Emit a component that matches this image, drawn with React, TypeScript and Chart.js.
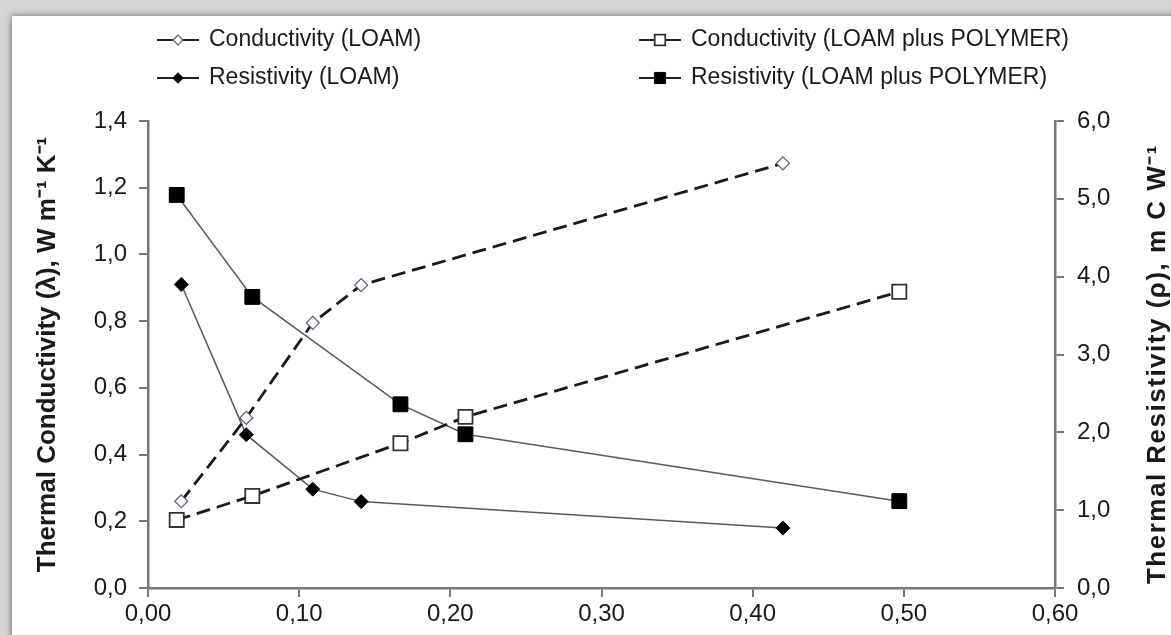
import React, { useEffect, useRef } from 'react';
import { Chart, registerables } from 'chart.js';

Chart.register(...registerables);

// ---- data ----
const loamMoisture = [0.022, 0.065, 0.109, 0.141, 0.42];
const loamConductivity = [0.26, 0.51, 0.795, 0.908, 1.273];
const loamResistivity = [3.9, 1.97, 1.27, 1.11, 0.77];

const polymerMoisture = [0.019, 0.069, 0.167, 0.21, 0.497];
const polymerConductivity = [0.204, 0.276, 0.434, 0.513, 0.888];
const polymerResistivity = [5.05, 3.74, 2.36, 1.975, 1.116];

const seriesNames = [
  'Conductivity (LOAM)',
  'Conductivity (LOAM plus POLYMER)',
  'Resistivity (LOAM)',
  'Resistivity (LOAM plus POLYMER)',
];

const xTickLabels = ['0,00', '0,10', '0,20', '0,30', '0,40', '0,50', '0,60'];
const leftTickLabels = ['0,0', '0,2', '0,4', '0,6', '0,8', '1,0', '1,2', '1,4'];
const rightTickLabels = ['0,0', '1,0', '2,0', '3,0', '4,0', '5,0', '6,0'];

const leftTitle = 'Thermal Conductivity (λ), W m⁻¹ K⁻¹';
const rightTitle = 'Thermal Resistivity (ρ), m C W⁻¹';

const FONT = '"Liberation Sans", Arial, sans-serif';

const toPoints = (xs: number[], ys: number[]) => xs.map((x, i) => ({ x, y: ys[i] }));

function drawMarker(ctx: CanvasRenderingContext2D, style: string, x: number, y: number, r: number, fill: string, stroke: string, lw: number) {
  ctx.beginPath();
  if (style === 'rectRot') {
    ctx.moveTo(x - r, y);
    ctx.lineTo(x, y - r);
    ctx.lineTo(x + r, y);
    ctx.lineTo(x, y + r);
    ctx.closePath();
  } else {
    const s = r * Math.SQRT1_2;
    ctx.rect(x - s, y - s, 2 * s, 2 * s);
  }
  ctx.fillStyle = fill;
  ctx.fill();
  ctx.lineWidth = lw;
  ctx.strokeStyle = stroke;
  ctx.stroke();
}

const decorPlugin = {
  id: 'decor',
  afterDraw(chart: any) {
    const ctx: CanvasRenderingContext2D = chart.ctx;
    ctx.save();
    // legend
    const items = [
      { ds: 0, x: 157, y: 40 },
      { ds: 1, x: 639, y: 40 },
      { ds: 2, x: 157, y: 78 },
      { ds: 3, x: 639, y: 78 },
    ];
    items.forEach((it) => {
      const d = chart.data.datasets[it.ds];
      ctx.beginPath();
      ctx.moveTo(it.x, it.y);
      ctx.lineTo(it.x + 42, it.y);
      ctx.lineWidth = 2;
      ctx.strokeStyle = '#222';
      ctx.setLineDash([]);
      ctx.stroke();
      drawMarker(ctx, d.pointStyle, it.x + 21, it.y, d.pointRadius * 0.75, d.pointBackgroundColor, d.pointBorderColor, d.pointBorderWidth);
      ctx.fillStyle = '#1a1a1a';
      ctx.font = `23px ${FONT}`;
      ctx.textAlign = 'left';
      ctx.textBaseline = 'middle';
      ctx.fillText(d.label, it.x + 52, it.y);
    });
    // right axis title (reads bottom to top)
    ctx.translate(1158, 364);
    ctx.rotate(-Math.PI / 2);
    ctx.font = `bold 26px ${FONT}`;
    (ctx as any).letterSpacing = '1.5px';
    ctx.fillStyle = '#1a1a1a';
    ctx.textAlign = 'center';
    ctx.textBaseline = 'middle';
    ctx.fillText(rightTitle, 0, 0);
    ctx.restore();
  },
};

export default function App() {
  const ref = useRef<HTMLCanvasElement | null>(null);

  useEffect(() => {
    if (!ref.current) return;
    const tickFont = { family: FONT, size: 24 };
    const axisGrid = { drawOnChartArea: false, drawTicks: true, tickLength: 9, color: '#777', lineWidth: 2 };
    const axisBorder = { display: true, color: '#777', width: 2.5 };
    const chart = new Chart(ref.current, {
      type: 'line',
      data: {
        datasets: [
          {
            label: seriesNames[0],
            data: toPoints(loamMoisture, loamConductivity),
            yAxisID: 'y',
            borderColor: '#1a1a1a',
            borderWidth: 2.8,
            borderDash: [14, 7],
            pointStyle: 'rectRot',
            pointRadius: 6.5,
            pointBackgroundColor: '#ffffff',
            pointBorderColor: '#5a5a78',
            pointBorderWidth: 1.2,
            tension: 0,
          },
          {
            label: seriesNames[1],
            data: toPoints(polymerMoisture, polymerConductivity),
            yAxisID: 'y',
            borderColor: '#1a1a1a',
            borderWidth: 2.8,
            borderDash: [14, 7],
            pointStyle: 'rect',
            pointRadius: 10,
            pointBackgroundColor: '#ffffff',
            pointBorderColor: '#333',
            pointBorderWidth: 1.8,
            tension: 0,
          },
          {
            label: seriesNames[2],
            data: toPoints(loamMoisture, loamResistivity),
            yAxisID: 'y1',
            borderColor: '#5a5a5a',
            borderWidth: 1.5,
            pointStyle: 'rectRot',
            pointRadius: 7,
            pointBackgroundColor: '#000',
            pointBorderColor: '#000',
            pointBorderWidth: 1,
            tension: 0,
          },
          {
            label: seriesNames[3],
            data: toPoints(polymerMoisture, polymerResistivity),
            yAxisID: 'y1',
            borderColor: '#5a5a5a',
            borderWidth: 1.5,
            pointStyle: 'rect',
            pointRadius: 10.5,
            pointBackgroundColor: '#000',
            pointBorderColor: '#000',
            pointBorderWidth: 1,
            tension: 0,
          },
        ],
      },
      options: {
        animation: false,
        responsive: false,
        maintainAspectRatio: false,
        devicePixelRatio: 1,
        layout: { padding: { top: 121, left: 0, right: 0, bottom: 0 } },
        plugins: { legend: { display: false }, tooltip: { enabled: false } },
        scales: {
          x: {
            type: 'linear',
            position: 'bottom',
            min: 0,
            max: 0.6,
            ticks: {
              stepSize: 0.1,
              font: tickFont,
              color: '#1a1a1a',
              padding: 3,
              callback: (v: any) => xTickLabels[Math.round(Number(v) / 0.1)] ?? '',
            },
            grid: axisGrid,
            border: axisBorder,
            afterFit: (s: any) => { s.height = 47; },
          },
          y: {
            type: 'linear',
            position: 'left',
            min: 0,
            max: 1.4,
            ticks: {
              stepSize: 0.2,
              font: tickFont,
              color: '#1a1a1a',
              padding: 12,
              callback: (v: any) => leftTickLabels[Math.round(Number(v) / 0.2)] ?? '',
            },
            grid: axisGrid,
            border: axisBorder,
            title: {
              display: true,
              text: leftTitle,
              font: { family: FONT, size: 26, weight: 'bold' },
              color: '#1a1a1a',
              padding: { top: 32, bottom: 0 },
            },
            afterFit: (s: any) => { s.width = 148; },
          },
          y1: {
            type: 'linear',
            position: 'right',
            min: 0,
            max: 6,
            ticks: {
              stepSize: 1,
              font: tickFont,
              color: '#1a1a1a',
              padding: 13,
              callback: (v: any) => rightTickLabels[Math.round(Number(v))] ?? '',
            },
            grid: axisGrid,
            border: axisBorder,
            afterFit: (s: any) => { s.width = 116; },
          },
        },
      } as any,
      plugins: [decorPlugin],
    });
    return () => chart.destroy();
  }, []);

  return (
    <div style={{ position: 'absolute', left: 0, top: 0, width: 1171, height: 635, overflow: 'hidden', background: '#d6d6d6' }}>
      <div
        style={{
          position: 'absolute',
          left: 12,
          top: 16,
          width: 1171,
          height: 635,
          background: '#ffffff',
          boxShadow: '0 0 7px rgba(0,0,0,0.55)',
        }}
      />
      <canvas ref={ref} width={1171} height={635} style={{ position: 'absolute', left: 0, top: 0, width: 1171, height: 635 }} />
    </div>
  );
}
